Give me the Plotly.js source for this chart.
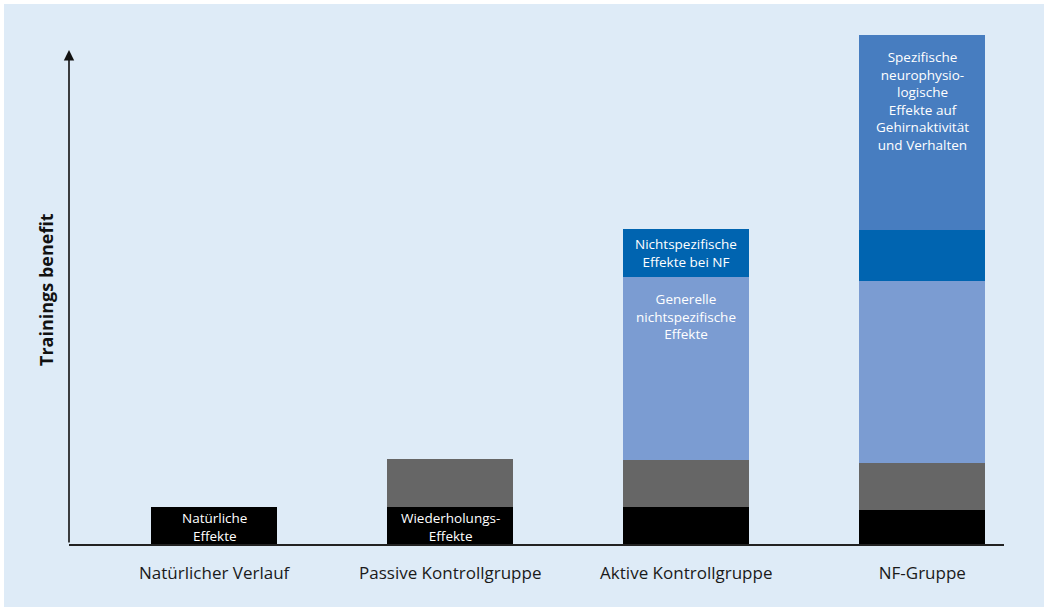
<!DOCTYPE html>
<html><head><meta charset="utf-8">
<script src="https://cdn.plot.ly/plotly-3.0.1.min.js"></script>
<style>html,body{margin:0;padding:0;background:#fff}#chart{width:1048px;height:611px}</style>
</head><body><div id="chart"></div>
<script>
const categories = ["Natürlicher Verlauf", "Passive Kontrollgruppe", "Aktive Kontrollgruppe", "NF-Gruppe"];
const natural    = [3.7, 3.7, 3.7, 3.4];
const repetition = [0, 4.8, 4.7, 4.7];
const generalNS  = [0, 0, 18.3, 18.2];
const nfNS       = [0, 0, 4.8, 5.1];
const specific   = [0, 0, 0, 19.5];
const yTitle = "Trainings benefit";
const labelNatural = ["Natürliche<br>Effekte", "Wiederholungs-<br>Effekte", "", ""];
const labelGeneral = ["", "", "Generelle<br>nichtspezifische<br>Effekte", ""];
const labelNfNS    = ["", "", "Nichtspezifische<br>Effekte bei NF", ""];
const labelSpecific = ["", "", "", "Spezifische<br>neurophysio-<br>logische<br>Effekte auf<br>Gehirnaktivität<br>und Verhalten"];

const series = [
  {v: natural, c: "#000000"},
  {v: repetition, c: "#666666"},
  {v: generalNS, c: "#7b9cd2"},
  {v: nfNS, c: "#0064b0"},
  {v: specific, c: "#477dc0"}
];
const traces = series.map(s => ({
  type: "bar", x: categories, y: s.v, marker: {color: s.c, line: {width: 0}},
  hoverinfo: "skip", showlegend: false
}));

const font = "'Open Sans', 'Noto Sans', sans-serif";
const tf = {family: font, size: 13.5, color: "#ffffff"};
const ann = [];
categories.forEach((c, i) => {
  const b0 = natural[i], b1 = b0 + repetition[i], b2 = b1 + generalNS[i], b3 = b2 + nfNS[i], b4 = b3 + specific[i];
  if (labelNatural[i]) ann.push({x: c, y: b0 / 2, xref: "x", yref: "y", text: labelNatural[i], showarrow: false, font: tf, yanchor: "middle", yshift: -1});
  if (labelGeneral[i]) ann.push({x: c, y: b2, xref: "x", yref: "y", text: labelGeneral[i], showarrow: false, font: tf, yanchor: "top", yshift: -11});
  if (labelNfNS[i]) ann.push({x: c, y: (b2 + b3) / 2, xref: "x", yref: "y", text: labelNfNS[i], showarrow: false, font: tf, yanchor: "middle"});
  if (labelSpecific[i]) ann.push({x: c, y: b4, xref: "x", yref: "y", text: labelSpecific[i], showarrow: false, font: tf, yanchor: "top", yshift: -11});
});
// y axis arrow
ann.push({x: 0, y: 49.4, xref: "paper", yref: "y", ax: 0, ay: 494, axref: "pixel", ayref: "pixel",
  showarrow: true, arrowhead: 2, arrowsize: 1.3, arrowwidth: 1.6, arrowcolor: "#111", text: ""});
// y axis title
ann.push({x: -0.0246, y: 0.5, xref: "paper", yref: "paper", text: "<b>" + yTitle + "</b>", textangle: -90,
  showarrow: false, xanchor: "center", yanchor: "middle", font: {family: font, size: 18, color: "#111"}});

const layout = {
  width: 1048, height: 611,
  margin: {l: 69, r: 44, t: 34, b: 67},
  paper_bgcolor: "#ffffff", plot_bgcolor: "rgba(0,0,0,0)",
  barmode: "stack", bargap: 0.466,
  xaxis: {type: "category", range: [-0.615, 3.346], showline: true, linecolor: "#222", linewidth: 2,
    ticks: "", showgrid: false, zeroline: false, ticklabelstandoff: 13,
    tickfont: {family: font, size: 17, color: "#1a1a1a"}, fixedrange: true},
  yaxis: {range: [0, 51], showline: false, showgrid: false, zeroline: false, showticklabels: false, ticks: "", fixedrange: true},
  shapes: [{type: "rect", xref: "paper", yref: "paper", x0: -0.0695, x1: 1.0428, y0: -0.1235, y1: 1.0588,
    fillcolor: "#deebf7", line: {width: 0}, layer: "below"}],
  annotations: ann
};
Plotly.newPlot("chart", traces, layout, {displayModeBar: false, staticPlot: true});
</script></body></html>
